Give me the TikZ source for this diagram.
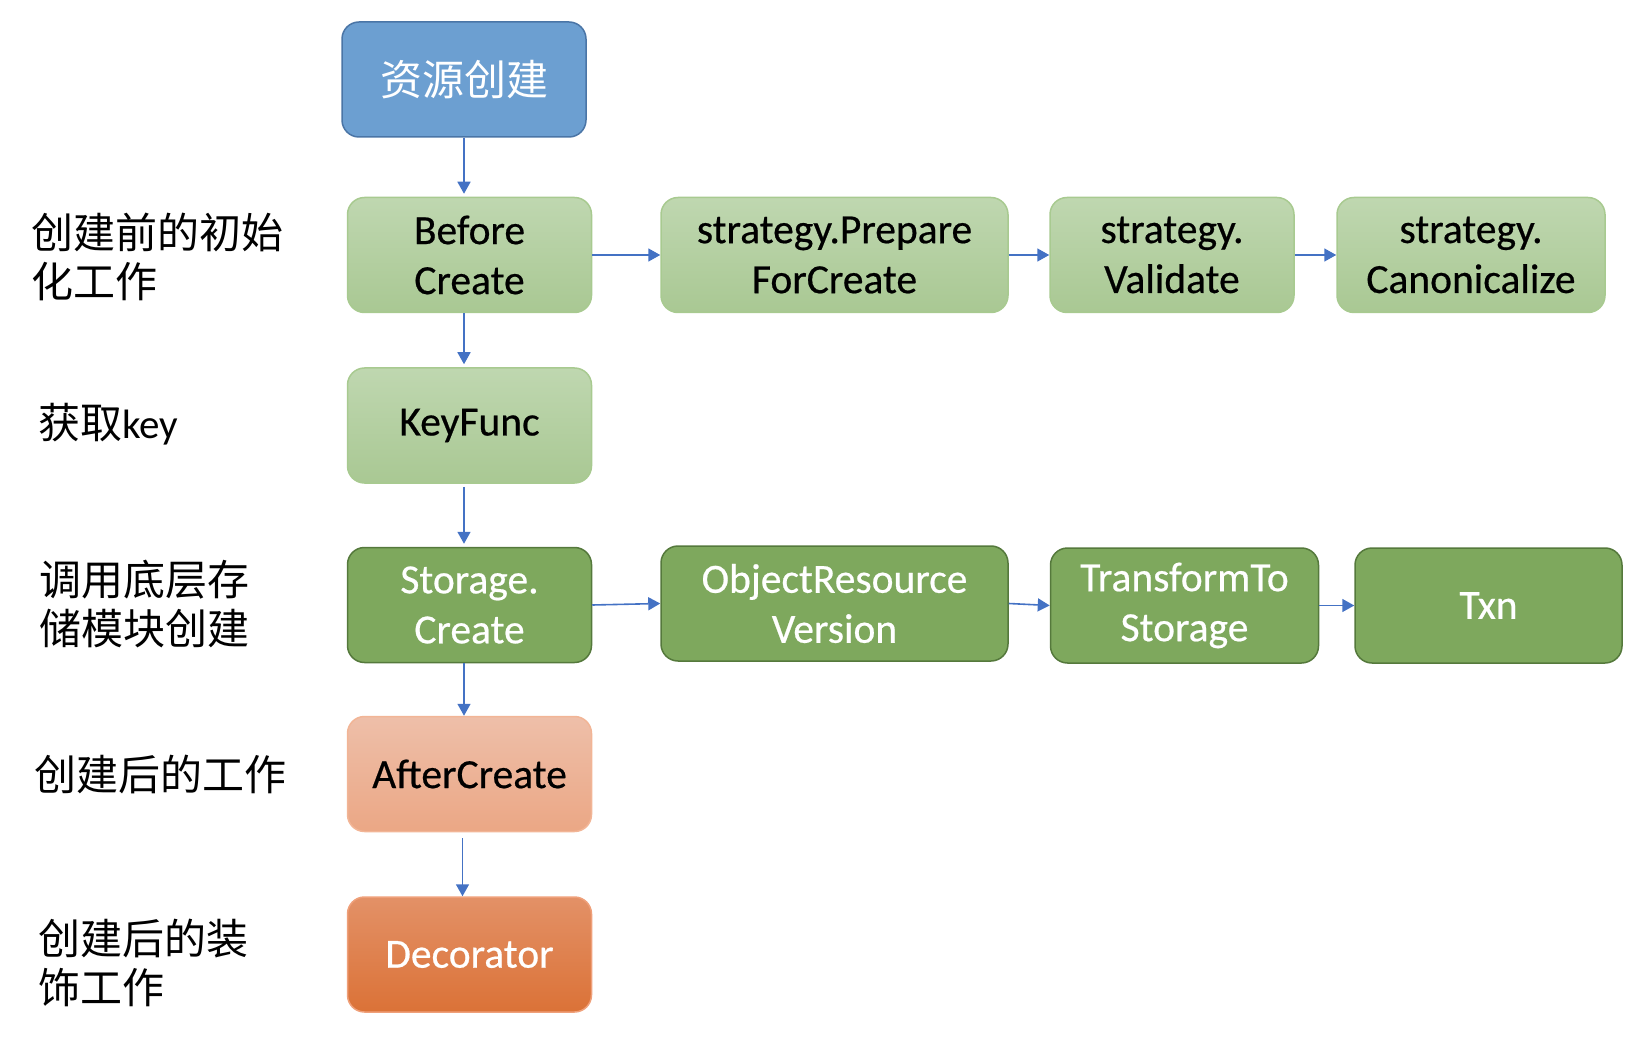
\documentclass[tikz,border=0pt]{standalone}
\usepackage{fontspec}
\setmainfont{Carlito}
\newfontfamily\boxfont{Carlito}[FakeBold=0.5]
\newfontfamily\cjk{Noto Sans CJK SC}
\usetikzlibrary{arrows.meta}
\definecolor{srcfill}{HTML}{6C9FD1}
\definecolor{srcdraw}{HTML}{4A75A6}
\definecolor{lgtop}{HTML}{BFD7B0}
\definecolor{lgbot}{HTML}{A9C893}
\definecolor{lgdraw}{HTML}{A8CA90}
\definecolor{dgfill}{HTML}{7EA85D}
\definecolor{dgdraw}{HTML}{55793C}
\definecolor{aftop}{HTML}{EEBFA9}
\definecolor{afbot}{HTML}{EBA785}
\definecolor{afdraw}{HTML}{F2B596}
\definecolor{dectop}{HTML}{E39167}
\definecolor{decmid}{HTML}{E4834A}
\definecolor{decbot}{HTML}{DB7237}
\definecolor{decdraw}{HTML}{EFA07A}
\definecolor{arrowblue}{HTML}{4472C4}
\begin{document}
\begin{tikzpicture}[x=1pt,y=-1pt,
  box/.style={rounded corners=17pt, minimum width=244pt, minimum height=115pt,
    line width=1.5pt, align=center, inner sep=0pt,
    font=\boxfont\fontsize{41.5}{50}\selectfont},
  srcbox/.style={box, fill=srcfill, draw=srcdraw, text=white,
    font=\cjk\fontsize{42}{49}\selectfont},
  lightbox/.style={box, top color=lgtop, bottom color=lgbot, draw=lgdraw, text=black},
  darkbox/.style={box, fill=dgfill, draw=dgdraw, text=white},
  afterbox/.style={box, top color=aftop, bottom color=afbot, draw=afdraw, text=black},
  decbox/.style={box, top color=dectop, middle color=decmid, bottom color=decbot, draw=decdraw, text=white},
  lbl/.style={anchor=base west, align=left, inner sep=0pt,
    font=\cjk\fontsize{42}{49}\selectfont},
  arr/.style={draw=arrowblue, line width=1.6pt, -{Triangle[length=12pt,width=13pt]}}
]
\useasboundingbox (0,0) rectangle (1646,1048);
% boxes
\node[srcbox] (src) at (464,79.5) {资源创建};
\node[lightbox] (before) at (469.5,255) {Before\\Create};
\node[lightbox, minimum width=347pt] (prepare) at (834.5,255) {strategy.Prepare\\ForCreate};
\node[lightbox] (validate) at (1172,255) {strategy.\\Validate};
\node[lightbox, minimum width=268pt] (canon) at (1471,255) {strategy.\\Canonicalize};
\node[lightbox] (keyfunc) at (469.5,425.5) {KeyFunc};
\node[darkbox] (storage) at (469.5,605) {Storage.\\Create};
\node[darkbox, minimum width=347pt] (object) at (834.5,603.5) {ObjectResource\\Version};
\node[darkbox, minimum width=268pt] (transform) at (1184.5,605.5) {TransformTo\\Storage};
\node[darkbox, minimum width=267pt] (txn) at (1488.5,605.5) {Txn};
\node[afterbox] (after) at (469.5,774) {AfterCreate};
\node[decbox] (decorator) at (469.5,954.5) {Decorator};
% labels
\node[lbl] (l1) at (31,298) {创建前的初始\\化工作};
\node[lbl] (l2) at (38,438) {获取{\fontspec{Carlito}\fontsize{41}{49}\selectfont key}};
\node[lbl] (l3) at (39,644) {调用底层存\\储模块创建};
\node[lbl] (l4) at (34,790) {创建后的工作};
\node[lbl] (l5) at (38,1003) {创建后的装\\饰工作};
% connectors
\draw[arr, shorten >=3pt] (src.south) -- (before.north -| src.south);
\draw[arr, shorten >=3pt] (before.south -| src.south) -- (keyfunc.north -| src.south);
\draw[arr, shorten <=3pt, shorten >=3pt] (keyfunc.south -| src.south) -- (storage.north -| src.south);
\draw[arr] (storage.south -| src.south) -- (after.north -| src.south);
\draw[arr, shorten <=6pt] ([xshift=-1.5pt]after.south -| src.south) -- ([xshift=-1.5pt]decorator.north -| src.south);
\draw[arr] (before.east) -- (prepare.west);
\draw[arr] (prepare.east) -- (validate.west);
\draw[arr] (validate.east) -- (canon.west);
\draw[arr] (storage.east) -- (object.west);
\draw[arr] (object.east) -- (transform.west);
\draw[arr] (transform.east) -- (txn.west);
\end{tikzpicture}
\end{document}
